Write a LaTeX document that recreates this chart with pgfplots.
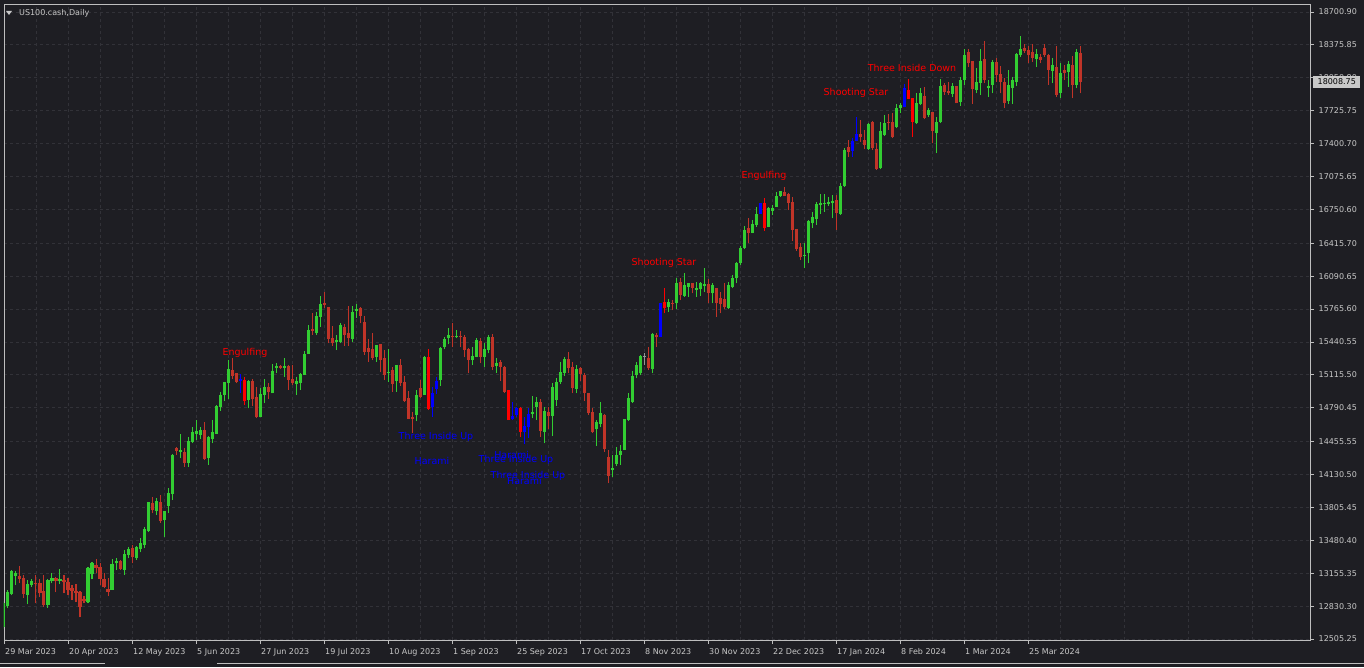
\documentclass[border=0pt]{standalone}
\usepackage{pgfplots}
\pgfplotsset{compat=1.18}
\usepackage{pgfplotstable}
\usepackage{fontspec}
\setmainfont{DejaVu Sans}
\definecolor{bg}{RGB}{30,30,35}
\definecolor{gridc}{RGB}{50,50,56}
\definecolor{framec}{RGB}{190,190,190}
\definecolor{txt}{RGB}{200,200,200}
\definecolor{boxc}{RGB}{200,200,200}
\definecolor{bull}{RGB}{50,205,50}
\definecolor{bear}{RGB}{192,52,40}
\definecolor{pblue}{RGB}{0,0,255}
\definecolor{pred}{RGB}{255,0,0}
\definecolor{doji}{RGB}{150,150,150}

% green (bullish) candles
\pgfplotstableread{
i o h l c
0 12621 12881 12604 12858
1 12834 12990 12809 12967
2 12950 13187 12940 13180
3 13131 13180 13039 13154
6 12943 13088 12848 13048
7 13039 13095 13022 13078
11 12841 13095 12815 13088
12 13075 13154 13055 13111
14 13078 13194 13048 13098
21 12868 13220 12858 13210
22 13144 13269 13095 13253
27 12989 13293 12989 13246
28 13253 13302 13187 13276
30 13187 13385 13138 13345
31 13335 13418 13302 13395
33 13309 13428 13286 13418
34 13392 13500 13362 13457
35 13434 13615 13402 13592
36 13572 13862 13565 13856
38 13770 13901 13731 13869
40 13681 13770 13516 13770
41 13820 13994 13753 13945
42 13938 14333 13879 14323
44 14356 14531 14290 14373
46 14247 14504 14208 14462
47 14455 14597 14439 14551
48 14531 14669 14472 14561
49 14518 14597 14479 14570
51 14297 14511 14225 14498
52 14482 14669 14439 14548
53 14531 14818 14531 14808
54 14801 14949 14761 14917
55 14917 15048 14860 15042
56 15032 15262 14874 15173
61 14867 15065 14785 15058
64 14696 14983 14696 14927
65 14917 15072 14834 14992
67 14933 15222 14933 15153
68 15180 15229 15136 15203
70 15186 15279 15097 15203
73 15025 15097 14917 15058
74 15038 15130 14966 15124
75 15114 15354 15114 15322
76 15322 15608 15322 15559
78 15526 15740 15510 15697
79 15690 15895 15592 15816
83 15443 15510 15361 15460
84 15437 15631 15427 15608
87 15470 15796 15443 15733
88 15749 15816 15681 15766
93 15295 15411 15245 15411
96 15136 15371 15048 15146
98 15055 15213 14949 15213
103 14719 14966 14659 14917
105 14917 15302 14917 15295
109 15065 15394 15008 15384
110 15394 15493 15368 15470
111 15477 15575 15417 15510
113 15487 15559 15477 15503
117 15262 15394 15213 15302
118 15295 15477 15289 15460
120 15295 15427 15196 15371
121 15361 15510 15328 15487
123 15206 15279 15136 15236
132 14728 14907 14686 14751
133 14801 14900 14669 14850
135 14554 14801 14439 14761
137 14709 15032 14511 14998
138 14867 15081 14808 15048
139 15048 15245 15025 15146
140 15136 15289 15104 15272
143 14976 15213 14933 15170
148 14577 14669 14412 14652
149 14630 14850 14597 14741
152 14175 14323 14109 14198
153 14234 14399 14215 14323
154 14323 14422 14225 14366
155 14373 14679 14373 14679
156 14669 14933 14659 14890
157 14850 15153 14840 15104
158 15114 15245 15081 15213
159 15130 15312 15114 15302
162 15170 15532 15130 15519
166 15783 15862 15740 15838
168 15822 16069 15763 16026
170 15895 16119 15888 16003
171 15987 16020 15888 16020
173 15954 16036 15888 15971
174 15961 16036 15895 16020
175 15994 16168 15937 16010
177 15921 16020 15822 16003
181 15773 16036 15763 16003
182 15987 16102 15971 16069
183 16069 16234 16020 16218
184 16218 16389 16201 16372
185 16366 16586 16356 16547
187 16520 16646 16514 16606
188 16596 16777 16580 16705
191 16580 16771 16573 16761
192 16737 16794 16695 16761
193 16777 16925 16777 16883
194 16883 16935 16876 16932
200 16290 16415 16168 16296
201 16323 16646 16217 16639
202 16619 16728 16564 16678
203 16652 16826 16596 16803
204 16794 16902 16705 16816
205 16800 16902 16728 16816
206 16803 16876 16784 16826
207 16810 16892 16662 16836
209 16705 17008 16695 16982
210 16982 17357 16972 17337
216 17344 17601 17337 17591
219 17156 17617 17147 17528
220 17485 17683 17476 17601
223 17568 17792 17552 17755
224 17749 17805 17700 17782
228 17601 17898 17594 17805
229 17789 17947 17779 17898
231 17683 17749 17666 17732
233 17508 17666 17305 17617
234 17617 18036 17601 17970
237 17891 17996 17864 17970
239 17815 18062 17772 18029
240 18029 18335 17980 18276
243 17930 18145 17898 18006
244 18002 18335 17881 18217
246 17953 18029 17864 17970
247 17980 18227 17898 18204
251 17825 18128 17792 17980
252 17953 18062 17792 18029
253 18012 18299 17970 18286
254 18276 18464 18260 18335
258 18237 18332 18155 18286
262 18121 18243 17996 18177
264 17903 18200 17848 18095
266 18111 18220 17963 18187
268 17980 18332 17947 18309
}\tG

% bearish candles
\pgfplotstableread{
i o h l c
4 13128 13227 13055 13101
5 13108 13138 12910 12950
8 13061 13138 12858 13051
9 13061 13095 12917 12957
10 12983 13138 12825 12841
13 13111 13115 12967 13081
15 13088 13138 12957 13065
16 13071 13105 12940 12989
17 13006 13039 12891 12980
18 12983 13048 12874 12963
19 12973 12983 12720 12825
20 12898 12930 12858 12884
23 13236 13293 13154 13210
24 13214 13259 13039 13095
25 13095 13154 13006 13016
26 12996 13105 12930 12973
29 13276 13286 13187 13197
32 13402 13434 13253 13313
37 13846 13905 13747 13780
39 13859 13928 13654 13674
43 14396 14406 14323 14363
45 14356 14390 14208 14247
50 14570 14646 14274 14284
57 15163 15285 15072 15107
58 15130 15130 15032 15048
62 15058 15072 14808 14874
63 14900 14992 14686 14696
66 14992 15038 14874 14943
69 15203 15213 15170 15180
71 15203 15213 14966 15065
72 15075 15213 15015 15038
77 15569 15724 15510 15549
80 15828 15937 15779 15806
81 15786 15786 15427 15470
82 15477 15598 15404 15427
85 15591 15615 15404 15510
86 15526 15796 15404 15477
89 15773 15783 15625 15700
90 15635 15697 15312 15344
91 15378 15467 15245 15344
92 15371 15526 15262 15285
94 15417 15417 15141 15262
95 15279 15361 15065 15114
97 15163 15196 14949 15025
99 15213 15272 15008 15032
100 15042 15107 14850 14857
101 14884 14956 14679 14679
102 14702 14751 14544 14679
104 14985 15065 14884 14900
112 15503 15625 15388 15487
114 15503 15552 15388 15487
115 15493 15510 15289 15361
116 15371 15378 15130 15262
119 15453 15477 15229 15295
122 15493 15519 15163 15196
124 15245 15262 15058 15196
125 15196 15203 14939 14949
134 14850 14874 14505 14564
136 14751 14801 14577 14709
141 15272 15338 15130 15186
142 15196 15245 14933 14983
144 15180 15190 15055 15121
145 15114 15130 14860 14933
146 14933 14933 14719 14735
147 14751 14785 14538 14554
150 14719 14728 14356 14380
151 14300 14373 14044 14116
161 15279 15388 15163 15180
163 15510 15532 15394 15487
167 15828 15855 15756 15816
169 16036 16069 15855 15905
172 16020 16026 15921 15971
176 16010 16059 15822 15921
178 15971 15971 15690 15822
179 15872 15937 15724 15816
180 15862 16020 15763 15783
186 16564 16662 16415 16520
195 16925 16975 16883 16886
196 16902 16909 16744 16816
197 16826 16869 16441 16547
198 16557 16557 16342 16356
199 16382 16415 16250 16283
208 16843 16892 16547 16718
211 17364 17436 17271 17320
214 17495 17634 17419 17469
215 17436 17535 17344 17387
217 17611 17624 17337 17354
218 17344 17403 17140 17147
221 17617 17693 17535 17601
222 17617 17700 17453 17463
230 17874 17957 17641 17650
232 17716 17716 17403 17528
235 17980 18002 17881 17913
236 17920 18006 17881 17897
238 17970 17970 17799 17799
241 18309 18332 18155 18194
242 18217 18217 17792 17937
245 18237 18414 17996 18029
248 18204 18243 18012 18078
249 18088 18167 17898 18012
250 18012 18046 17749 17805
255 18342 18385 18299 18319
256 18325 18365 18194 18276
257 18303 18382 18210 18243
259 18259 18286 18194 18227
260 18342 18385 18259 18276
261 18276 18286 17980 18128
263 18160 18365 17864 17881
265 18128 18177 18029 18101
267 18177 18266 17848 17980
269 18299 18365 17898 18008.75
}\tR

% pattern candles, blue
\pgfplotstableread{
i o h l c
59 15075 15121 14939 15055
107 14795 14998 14696 14939
108 14976 15091 14926 15055
127 14676 14850 14669 14709
128 14719 14795 14702 14785
130 14554 14702 14432 14610
131 14597 14785 14489 14728
164 15487 15822 15487 15822
189 16705 16810 16705 16810
212 17330 17453 17271 17429
213 17429 17660 17429 17495
225 17765 17989 17759 17947
}\tB

% pattern candles, red
\pgfplotstableread{
i o h l c
60 15065 15091 14818 14860
106 15295 15368 14768 14775
126 14966 14966 14669 14669
129 14785 14801 14505 14554
165 15832 15971 15724 15773
190 16816 16860 16540 16564
226 17930 18036 17838 17838
227 17848 17848 17469 17617
}\tX

% doji
\pgfplotstableread{
i o h l c
160 15292 15334 15213 15302
}\tY

\pgfplotsset{
  wick/.style={draw=none, mark=none, forget plot,
    error bars/.cd, y dir=plus, y explicit, error mark=none,
    error bar style={line width=1pt, solid, draw=#1}},
  body/.style={draw=none, mark=none, forget plot,
    error bars/.cd, y dir=plus, y explicit, error mark=none,
    error bar style={line width=3pt, solid, draw=#1}},
}
\newcommand{\candles}[2]{%
  \addplot[wick=#2] table[x=i, y=l, y error plus expr={\thisrow{h}-\thisrow{l}}] {#1};
  \addplot[body=#2] table[x=i, y expr={min(\thisrow{o},\thisrow{c})},
     y error plus expr={max(abs(\thisrow{c}-\thisrow{o}),10)}] {#1};
}

\begin{document}
\begin{tikzpicture}
\useasboundingbox (0,0) rectangle (1364pt,667pt);
\fill[bg] (0,0) rectangle (1364pt,667pt);
\begin{axis}[
  at={(4pt,27pt)}, anchor=south west,
  scale only axis, width=1306pt, height=636pt,
  xmin=0, xmax=326.5, ymin=12495.4, ymax=18780,
  axis line style={draw=framec, line width=0.8pt},
  xtick={0,16,...,256},
  xticklabels={29 Mar 2023,20 Apr 2023,12 May 2023,5 Jun 2023,27 Jun 2023,19 Jul 2023,10 Aug 2023,1 Sep 2023,25 Sep 2023,17 Oct 2023,8 Nov 2023,30 Nov 2023,22 Dec 2023,17 Jan 2024,8 Feb 2024,1 Mar 2024,25 Mar 2024},
  minor xtick={8,24,...,312},
  ytick={12505.25,12830.30,13155.35,13480.40,13805.45,14130.50,14455.55,14790.45,15115.50,15440.55,15765.60,16090.65,16415.70,16750.60,17075.65,17400.70,17725.75,18050.80,18375.85,18700.90},
  yticklabels={12505.25,12830.30,13155.35,13480.40,13805.45,14130.50,14455.55,14790.45,15115.50,15440.55,15765.60,16090.65,16415.70,16750.60,17075.65,17400.70,17725.75,18050.80,18375.85,18700.90},
  xmajorgrids, xminorgrids, ymajorgrids,
  grid style={draw=gridc, dash pattern=on 3pt off 3pt, line width=0.8pt},
  major grid style={draw=gridc, dash pattern=on 3pt off 3pt, line width=0.8pt},
  minor grid style={draw=gridc, dash pattern=on 3pt off 3pt, line width=0.8pt},
  tick align=outside, xtick pos=left, ytick pos=right,
  xticklabel pos=left, yticklabel pos=right,
  major tick length=4pt, minor tick length=0pt,
  tick style={draw=framec, line width=0.8pt},
  ticklabel style={font=\fontsize{8}{9}\selectfont, text=txt},
  xticklabel style={anchor=north west, inner sep=0pt, xshift=1pt, yshift=-4.5pt},
  yticklabel style={anchor=west, inner sep=0pt, xshift=4.5pt},
  clip=true,
]
\candles{\tG}{bull}
\candles{\tR}{bear}
\candles{\tY}{doji}
\candles{\tB}{pblue}
\candles{\tX}{pred}

\begin{scope}[font=\fontsize{9.5}{10}\selectfont]
\node[text=pred] at (axis cs:60.25,15331) {Engulfing};
\node[text=pblue] at (axis cs:108,14501) {Three Inside Up};
\node[text=pblue] at (axis cs:107,14264) {Harami};
\node[text=pblue] at (axis cs:126.9,14328) {Harami};
\node[text=pblue] at (axis cs:128,14274) {Three Inside Up};
\node[text=pblue] at (axis cs:131,14121) {Three Inside Up};
\node[text=pblue] at (axis cs:130.1,14066) {Harami};
\node[text=pred] at (axis cs:165,16221) {Shooting Star};
\node[text=pred] at (axis cs:190,17080) {Engulfing};
\node[text=pred] at (axis cs:213,17900) {Shooting Star};
\node[text=pred] at (axis cs:227,18148) {Three Inside Down};
\end{scope}
\coordinate (pb) at (axis cs:326.5,18008.75);
\end{axis}
\node[fill=boxc, text=black, anchor=west, inner xsep=4.5pt, inner ysep=3.5pt,
      text height=5.8pt, text depth=0pt, font=\fontsize{8}{9}\selectfont]
      at ([xshift=3pt]pb) {18008.75};
% title
\fill[txt] (6pt,656pt) -- (12pt,656pt) -- (9pt,652pt) -- cycle;
\node[anchor=west, inner sep=0pt, text=txt, font=\fontsize{8}{9}\selectfont] at (19pt,654pt) {US100.cash,Daily};
% bottom tabs
\draw[framec, line width=0.8pt] (0,3.5pt) -- (105pt,3.5pt);
\draw[framec, line width=0.8pt] (217pt,3.5pt) -- (1364pt,3.5pt);
\end{tikzpicture}
\end{document}
